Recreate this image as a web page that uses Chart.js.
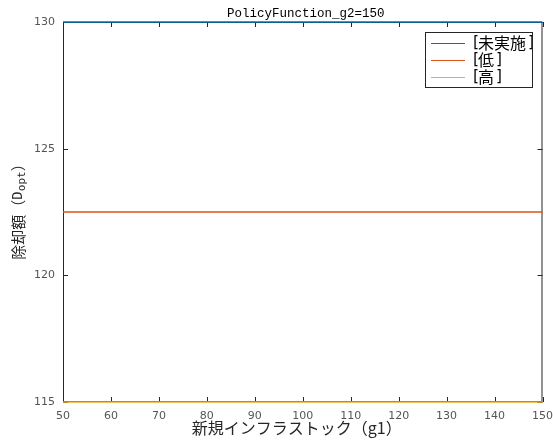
<!DOCTYPE html>
<html>
<head>
<meta charset="utf-8">
<script src="https://cdn.jsdelivr.net/npm/chart.js@4"></script>
<style>
  html, body { margin: 0; padding: 0; background: #fff; }
  #wrap { width: 553px; height: 441px; position: relative; }
</style>
</head>
<body>
<div id="wrap"><canvas id="c" width="553" height="441"></canvas></div>
<script>
// g1 grid and policy values for each scenario
const g1Values = [50, 60, 70, 80, 90, 100, 110, 120, 130, 140, 150];
const dNone = [130, 130, 130, 130, 130, 130, 130, 130, 130, 130, 130];
const dLow  = [122.5, 122.5, 122.5, 122.5, 122.5, 122.5, 122.5, 122.5, 122.5, 122.5, 122.5];
const dHigh = [115, 115, 115, 115, 115, 115, 115, 115, 115, 115, 115];
const seriesLabels = ['[未実施]', '[低]', '[高]'];
const seriesColors = ['#0072BD', '#D95319', '#EDB120'];
const xTicks = [50, 60, 70, 80, 90, 100, 110, 120, 130, 140, 150];
const yTicks = [115, 120, 125, 130];

const titleText = 'PolicyFunction_g2=150';
const xTitle = '新規インフラストック（g1）';

const toPoints = arr => arr.map((v, i) => ({ x: g1Values[i], y: v }));

const tickFont = { family: 'DejaVu Sans', size: 11 };
const tickColor = '#555555';
const axisColor = '#262626';

// Box, inward ticks, titles and legend
const framePlugin = {
  id: 'frame',
  beforeDatasetsDraw(chart) {
    const { ctx, chartArea: a, scales } = chart;
    ctx.save();
    ctx.strokeStyle = axisColor;
    ctx.lineWidth = 1;
    ctx.strokeRect(a.left + 0.5, a.top + 0.5, a.right - a.left - 1, a.bottom - a.top - 1);
    const tl = 5;
    ctx.beginPath();
    xTicks.forEach(v => {
      const px = Math.round(scales.x.getPixelForValue(v)) + 0.5;
      ctx.moveTo(px, a.bottom); ctx.lineTo(px, a.bottom - tl);
      ctx.moveTo(px, a.top); ctx.lineTo(px, a.top + tl);
    });
    yTicks.forEach(v => {
      const py = Math.round(scales.y.getPixelForValue(v)) + 0.5;
      ctx.moveTo(a.left, py); ctx.lineTo(a.left + tl, py);
      ctx.moveTo(a.right, py); ctx.lineTo(a.right - tl, py);
    });
    ctx.stroke();
    ctx.restore();
  },
  afterDraw(chart) {
    const { ctx, chartArea: a } = chart;
    const cx = (a.left + a.right) / 2;
    const cy = (a.top + a.bottom) / 2;
    ctx.save();
    // title
    ctx.fillStyle = '#000';
    ctx.font = '12.5px "Liberation Mono", "DejaVu Sans Mono", monospace';
    ctx.textAlign = 'center';
    ctx.textBaseline = 'middle';
    ctx.fillText(titleText, cx + 3, 14);
    // x axis title
    ctx.fillStyle = '#262626';
    ctx.font = '16px "Noto Sans CJK JP", sans-serif';
    ctx.fillText(xTitle, cx - 6, 428);
    // y axis title with subscript
    ctx.translate(18, cy - 4);
    ctx.rotate(-Math.PI / 2);
    const mainFont = '15px "Noto Sans CJK JP", sans-serif';
    const subFont = '11px "DejaVu Sans Mono", monospace';
    const letterFont = '14px "DejaVu Sans Mono", monospace';
    const parts = [
      { t: '除却額（', f: mainFont, dy: 0 },
      { t: 'D', f: letterFont, dy: 0 },
      { t: 'opt', f: subFont, dy: 4 },
      { t: '）', f: mainFont, dy: 0 }
    ];
    let total = 0;
    parts.forEach(p => { ctx.font = p.f; p.w = ctx.measureText(p.t).width; total += p.w; });
    let x = -total / 2;
    ctx.textAlign = 'left';
    parts.forEach(p => { ctx.font = p.f; ctx.fillText(p.t, x, p.dy); x += p.w; });
    ctx.restore();

    // legend
    ctx.save();
    const lx = 425, ly = 32, lw = 107, lh = 55;
    ctx.fillStyle = '#fff';
    ctx.fillRect(lx, ly, lw, lh);
    ctx.textBaseline = 'middle';
    ctx.textAlign = 'left';
    const bracketFont = '15px "DejaVu Sans Mono", monospace';
    const cjkFont = '16px "Noto Sans CJK JP", sans-serif';
    chart.data.datasets.forEach((ds, i) => {
      const y = ly + 11 + i * 17;
      ctx.strokeStyle = ds.borderColor;
      ctx.lineWidth = 1;
      ctx.beginPath();
      ctx.moveTo(lx + 6, y + 0.5); ctx.lineTo(lx + 40, y + 0.5);
      ctx.stroke();
      ctx.fillStyle = '#000';
      const inner = ds.label.slice(1, -1);
      let tx = lx + 46;
      ctx.font = bracketFont;
      ctx.fillText('[', tx, y);
      tx += 7;
      ctx.font = cjkFont;
      ctx.fillText(inner, tx, y);
      tx += ctx.measureText(inner).width + 1;
      ctx.font = bracketFont;
      ctx.fillText(']', tx, y);
    });
    ctx.strokeStyle = '#262626';
    ctx.lineWidth = 1;
    ctx.strokeRect(lx + 0.5, ly + 0.5, lw, lh);
    ctx.restore();
  }
};

new Chart(document.getElementById('c'), {
  type: 'line',
  data: {
    datasets: [dNone, dLow, dHigh].map((arr, i) => ({
      label: seriesLabels[i],
      data: toPoints(arr),
      borderColor: seriesColors[i],
      backgroundColor: seriesColors[i],
      borderWidth: 1.5,
      pointRadius: 0,
      fill: false,
      clip: 4
    }))
  },
  options: {
    responsive: false,
    animation: false,
    layout: { padding: { top: 22, right: 10, left: 0, bottom: 0 } },
    plugins: { legend: { display: false }, tooltip: { enabled: false } },
    scales: {
      x: {
        type: 'linear',
        min: 50, max: 150,
        afterBuildTicks: s => { s.ticks = xTicks.map(v => ({ value: v })); },
        afterFit: s => { s.height = 39; },
        grid: { display: false },
        border: { display: false },
        ticks: { font: tickFont, color: tickColor, padding: 0, maxRotation: 0, autoSkip: false }
      },
      y: {
        type: 'linear',
        min: 115, max: 130,
        afterBuildTicks: s => { s.ticks = yTicks.map(v => ({ value: v })); },
        afterFit: s => { s.width = 63; },
        grid: { display: false },
        border: { display: false },
        ticks: { font: tickFont, color: tickColor, padding: 0 }
      }
    }
  },
  plugins: [framePlugin]
});
</script>
</body>
</html>
